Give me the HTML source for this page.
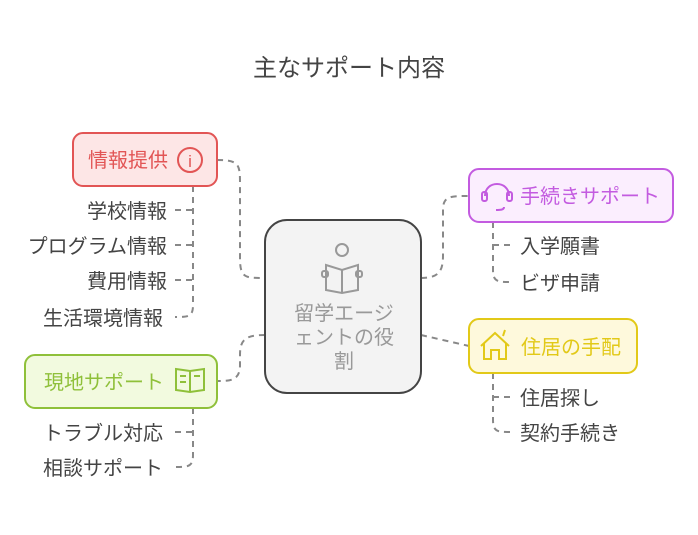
<!DOCTYPE html>
<html><head><meta charset="utf-8"><style>
body{margin:0;background:#fff;width:698px;height:530px;overflow:hidden}
svg text{font-family:"Liberation Sans","Noto Sans CJK JP",sans-serif}
</style></head><body>
<svg width="698" height="530" viewBox="0 0 698 530">
<text x="349" y="76" font-size="24" fill="#444" text-anchor="middle">主なサポート内容</text>
<g fill="none" stroke="#888" stroke-width="2" stroke-dasharray="6,5">
<path d="M217,160 C240,160 240,165 240,185 L240,258 C240,278 245,278 265,278"/>
<path d="M265,335 C245,335 240,340 240,355 L240,365 C240,381 230,381 217,381"/>
<path d="M421,278 C440,278 443,270 443,255 L443,210 C443,196 450,196 469,196"/>
<path d="M421,335 L469,346"/>
<path d="M193,186 L193,305 C193,317 188,317 175,317"/>
<path d="M175,210 L193,210 M175,245 L193,245 M175,280 L193,280"/>
<path d="M193,408 L193,455 C193,467 188,467 175,467"/>
<path d="M175,432 L193,432"/>
<path d="M493,222 L493,270 C493,282 498,282 510,282"/>
<path d="M493,245 L510,245"/>
<path d="M493,373 L493,420 C493,432 498,432 510,432"/>
<path d="M493,397 L510,397"/>
</g>
<rect x="265" y="220" width="156" height="173" rx="22" fill="#f3f3f3" stroke="#444" stroke-width="2"/>
<g fill="none" stroke="#999" stroke-width="2">
<circle cx="342" cy="250" r="6"/>
<path d="M326,265 L342,270 L358,265 L358,290 L342,293 L326,290 Z M342,270 L342,293"/>
<rect x="322" y="271" width="6" height="6" rx="2"/><rect x="356" y="271" width="6" height="6" rx="2"/>
</g>
<g font-size="20" fill="#999" text-anchor="middle">
<text x="344" y="320">留学エージ</text><text x="344" y="344">ェントの役</text><text x="344" y="368">割</text></g>
<rect x="73" y="133" width="144" height="53" rx="10" fill="#fde6e6" stroke="#e25555" stroke-width="2"/>
<text x="88" y="167" font-size="20" fill="#e25555">情報提供</text>
<circle cx="190" cy="160" r="12" fill="none" stroke="#e25555" stroke-width="2"/>
<text x="190" y="167" font-size="17" fill="#e25555" text-anchor="middle">i</text>
<rect x="25" y="355" width="192" height="53" rx="10" fill="#f2fadf" stroke="#8fc03a" stroke-width="2"/>
<text x="44" y="389" font-size="20" fill="#8fc03a">現地サポート</text>
<g fill="none" stroke="#8fc03a" stroke-width="2"><path d="M176,369 L190,371 L204,369 L204,390 L190,392 L176,390 Z M190,371 L190,392 M180,376 h6 M180,382 h6 M194,376 h6"/></g>
<rect x="469" y="169" width="204" height="53" rx="10" fill="#fbeefe" stroke="#c35be0" stroke-width="2"/>
<text x="520" y="203" font-size="20" fill="#c35be0">手続きサポート</text>
<g fill="none" stroke="#c35be0" stroke-width="2"><path d="M485,196 C485,180 509,180 509,196 M504,207 C504,210 500,210 496,210"/><rect x="482" y="192" width="5" height="9" rx="2"/><rect x="507" y="192" width="5" height="9" rx="2"/></g>
<rect x="469" y="319" width="168" height="54" rx="10" fill="#fef9dc" stroke="#e2c918" stroke-width="2"/>
<text x="521" y="354" font-size="20" fill="#e2c918">住居の手配</text>
<g fill="none" stroke="#e2c918" stroke-width="2"><path d="M481,346 L495,333 L509,346 M484,343 L484,359 L491,359 L491,350 L499,350 L499,359 L506,359 L506,343 M503,336 L505,330"/></g>
<g font-size="20" fill="#444">
<g text-anchor="end"><text x="167" y="218">学校情報</text><text x="167" y="253">プログラム情報</text><text x="167" y="288">費用情報</text><text x="163" y="325">生活環境情報</text>
<text x="163" y="440">トラブル対応</text><text x="163" y="475">相談サポート</text></g>
<text x="520" y="253">入学願書</text><text x="520" y="290">ビザ申請</text>
<text x="520" y="405">住居探し</text><text x="520" y="440">契約手続き</text>
</g>
</svg>
</body></html>
